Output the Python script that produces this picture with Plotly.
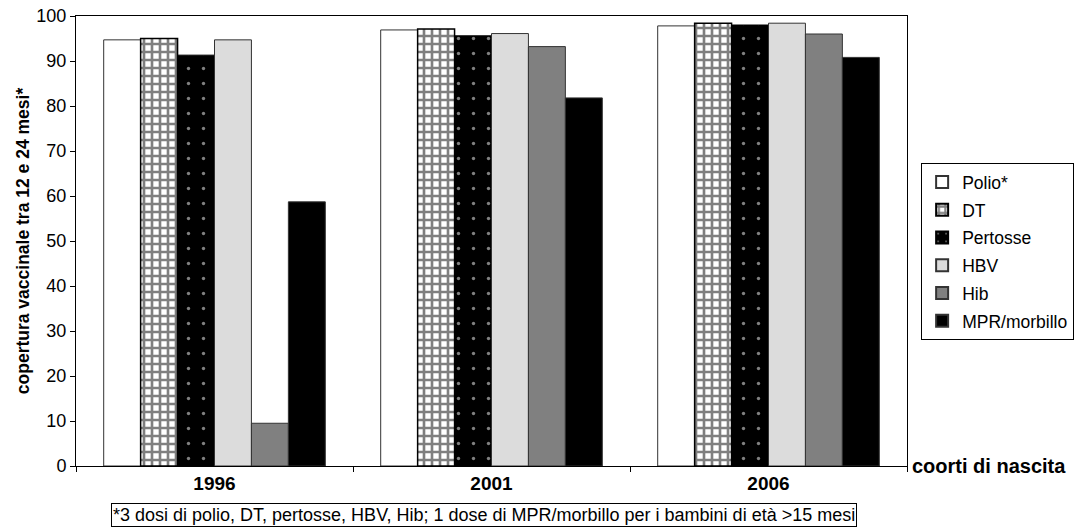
import plotly.graph_objects as go

categories = ["1996", "2001", "2006"]
polio = [94.7, 96.9, 97.8]
dt = [95.0, 97.1, 98.4]
pertosse = [91.3, 95.6, 98.0]
hbv = [94.7, 96.1, 98.4]
hib = [9.5, 93.2, 96.0]
mpr = [58.7, 81.8, 90.8]

FONT = "Arial, Liberation Sans, sans-serif"

series = [
    ("Polio*", polio, dict(color="white", line=dict(color="#333333", width=1))),
    ("DT", dt, dict(color="white", line=dict(color="black", width=1.5),
                    pattern=dict(shape="+", fgcolor="black", bgcolor="white", size=8, solidity=0.55))),
    ("Pertosse", pertosse, dict(color="black", line=dict(color="black", width=1),
                                pattern=dict(shape=".", fgcolor="white", bgcolor="black", size=15, solidity=0.04))),
    ("HBV", hbv, dict(color="#dcdcdc", line=dict(color="#333333", width=1))),
    ("Hib", hib, dict(color="#808080", line=dict(color="#333333", width=1))),
    ("MPR/morbillo", mpr, dict(color="black", line=dict(color="#333333", width=1))),
]

fig = go.Figure()
for i, (name, vals, marker) in enumerate(series):
    fig.add_trace(go.Bar(x=categories, y=vals, name=name, marker=marker,
                         legendgroup=f"g{i}"))

fig.update_layout(
    width=1077, height=528,
    margin=dict(l=76, r=170, t=16, b=62, autoexpand=False),
    paper_bgcolor="white", plot_bgcolor="white",
    barmode="group", bargap=0.2, bargroupgap=0,
    font=dict(family=FONT, size=18, color="black"),
    showlegend=True,
    legend=dict(x=1.017, y=0.673, xanchor="left", yanchor="top",
                bordercolor="black", borderwidth=1, bgcolor="white",
                font=dict(size=17.5, family=FONT), tracegroupgap=2,
                itemsizing="constant"),
)
fig.update_xaxes(
    type="category", showline=True, linecolor="black", linewidth=1, mirror=True,
    ticks="outside", tickson="boundaries", ticklen=5, tickcolor="black",
    tickfont=dict(size=19, family=FONT), showgrid=False, automargin=False,
    tickprefix="<b>", ticksuffix="</b>",
)
fig.update_yaxes(
    range=[0, 100], dtick=10, showline=True, linecolor="black", linewidth=1, mirror=True,
    ticks="outside", ticklen=5, tickcolor="black", showgrid=False, automargin=False,
    tickfont=dict(size=18, family=FONT),
    title=dict(text="<b>copertura vaccinale tra 12 e 24 mesi*</b>", font=dict(size=17.5, family=FONT), standoff=2),
)
fig.add_annotation(
    text="<b>coorti di nascita</b>", xref="paper", yref="paper", x=1.004, y=0,
    xanchor="left", yanchor="middle", showarrow=False, font=dict(size=20, family=FONT),
)
fig.add_annotation(
    text="*3 dosi di polio, DT, pertosse, HBV, Hib; 1 dose di MPR/morbillo per i bambini di età >15 mesi",
    xref="paper", yref="paper", x=0.491, y=-0.082, xanchor="center", yanchor="top",
    showarrow=False, font=dict(size=18, family=FONT), bordercolor="black", borderwidth=1,
    borderpad=1, bgcolor="white",
)

fig.write_html("out.html", config={"displayModeBar": False},
               post_script="document.body.style.margin='0';")
